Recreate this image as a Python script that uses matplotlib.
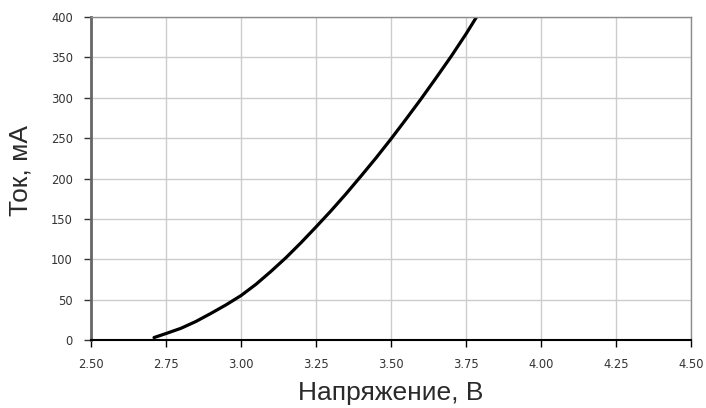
import matplotlib.pyplot as plt

# values
voltage = [2.71, 2.75, 2.80, 2.85, 2.90, 2.95, 3.00, 3.05, 3.10, 3.15, 3.20, 3.25,
           3.30, 3.35, 3.40, 3.45, 3.50, 3.55, 3.60, 3.65, 3.70, 3.75, 3.785]
current = [3, 8, 14.5, 23, 33, 43.5, 55, 69, 85, 102, 120.5, 140,
           160, 181, 203, 225.5, 249, 273.5, 298.5, 324.5, 351, 379, 400]

x_ticks = [2.50, 2.75, 3.00, 3.25, 3.50, 3.75, 4.00, 4.25, 4.50]
y_ticks = [0, 50, 100, 150, 200, 250, 300, 350, 400]

fig = plt.figure(figsize=(7.06, 4.08), dpi=100)
ax = fig.add_axes([0.1289, 0.1667, 0.8499, 0.7916])

ax.plot(voltage, current, color="black", lw=2.3, solid_capstyle="round",
        solid_joinstyle="round")

ax.set_xlim(2.5, 4.5)
ax.set_ylim(0, 400)
ax.set_xticks(x_ticks)
ax.set_xticklabels([f"{t:.2f}" for t in x_ticks])
ax.set_yticks(y_ticks)
ax.grid(True, color="#cccccc", lw=1)
ax.set_axisbelow(True)

ax.tick_params(direction="out", length=5, width=1, colors="#333333",
               labelsize=8.3, pad=8)
ax.tick_params(axis="x", colors="black", labelcolor="#333333")

ax.spines["left"].set_color("#666666")
ax.spines["left"].set_linewidth(2)
ax.spines["bottom"].set_color("black")
ax.spines["bottom"].set_linewidth(1.5)
for s in ("top", "right"):
    ax.spines[s].set_color("#8c8c8c")
    ax.spines[s].set_linewidth(1)

lab_font = dict(family=["Liberation Sans", "DejaVu Sans"], fontsize=19, color="#2a2a2a")
ax.set_xlabel("Напряжение, В", **lab_font)
ax.xaxis.set_label_coords(0.5, -0.128)
ax.set_ylabel("Ток, мА", **lab_font)
ax.yaxis.set_label_coords(-0.097, 0.525)

fig.savefig("out.png", dpi=100)
